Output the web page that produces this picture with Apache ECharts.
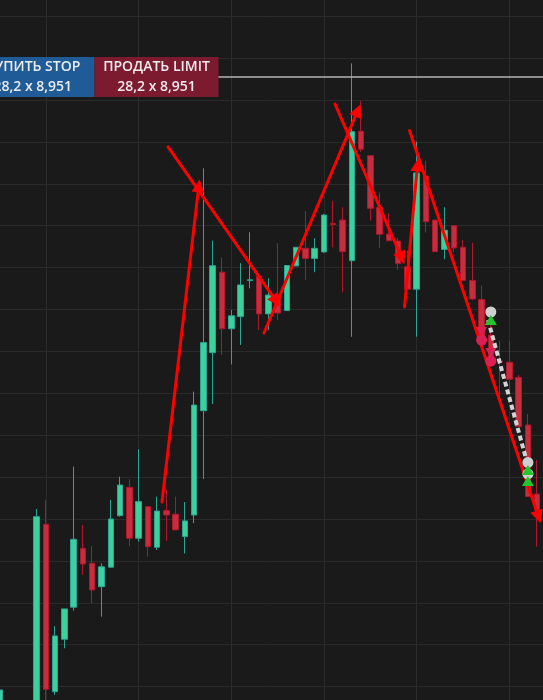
<!DOCTYPE html>
<html><head><meta charset="utf-8">
<script src="https://cdn.jsdelivr.net/npm/echarts@6/dist/echarts.min.js"></script>
<style>html,body{margin:0;padding:0;background:#1a1a1a}#c{width:543px;height:700px}</style>
</head><body><div id="c"></div>
<script>
// ---- candle data (one entry per candle, left to right; null = candle outside the view) ----
const opens  = [8.92041,null,null,null,8.92041,8.92975,8.92176,8.92426,8.92579,8.92860,8.92789,8.92677,8.92770,8.93016,8.93151,8.92908,8.93059,8.92865,8.93040,8.93023,8.92916,8.93019,8.93517,8.93794,8.94178,8.93908,8.93966,8.94138,8.94160,8.93979,8.94069,8.93995,8.94208,8.94292,8.94244,8.94275,8.94411,8.94427,8.94233,8.94851,8.94734,8.94487,8.94360,8.94327,8.94204,8.94097,8.94637,8.94427,8.94287,8.94400,8.94297,8.94138,8.94048,8.93878,8.93754,8.93748,8.93676,8.93449,8.93119];
const closes = [8.92184,null,null,null,8.93011,8.92187,8.92442,8.92571,8.92903,8.92785,8.92661,8.92772,8.93000,8.93162,8.92908,8.93083,8.92868,8.93038,8.93019,8.92948,8.92991,8.93544,8.93842,8.94209,8.93908,8.93970,8.94117,8.94142,8.93979,8.94069,8.93983,8.94210,8.94297,8.94244,8.94292,8.94451,8.94406,8.94276,8.94849,8.94765,8.94483,8.94359,8.94328,8.94219,8.94097,8.94652,8.94419,8.94276,8.94378,8.94294,8.94138,8.94050,8.93866,8.93743,8.93750,8.93667,8.93441,8.93107,8.93043];
const lows   = [8.92041,null,null,null,8.91993,8.92088,8.92160,8.92383,8.92562,8.92733,8.92598,8.92534,8.92770,8.93011,8.92871,8.92892,8.92820,8.92852,8.92895,8.92948,8.92835,8.92980,8.93191,8.93549,8.93783,8.93738,8.93831,8.94101,8.93902,8.93902,8.93950,8.93995,8.94208,8.94141,8.94178,8.94271,8.94297,8.94081,8.93870,8.94752,8.94424,8.94294,8.94327,8.94189,8.94097,8.93870,8.94367,8.94276,8.94240,8.94275,8.94138,8.94045,8.93823,8.93727,8.93568,8.93560,8.93441,8.93107,8.92868];
const highs  = [8.92184,null,null,null,8.93048,8.93091,8.92489,8.92571,8.93250,8.92971,8.92871,8.92789,8.93091,8.93202,8.93190,8.93333,8.93059,8.93107,8.93139,8.93107,8.93081,8.93608,8.94674,8.94329,8.94249,8.93998,8.94221,8.94369,8.94160,8.94149,8.94317,8.94210,8.94297,8.94470,8.94340,8.94456,8.94519,8.94488,8.95175,8.94997,8.94737,8.94558,8.94459,8.94341,8.94281,8.94801,8.94710,8.94427,8.94488,8.94400,8.94332,8.94319,8.94114,8.93950,8.93851,8.93851,8.93687,8.93501,8.93282];

// ---- annotations, in (slot, price) ----
const trendLines = [
  [[22.53, 8.93081], [26.50, 8.94590]],
  [[23.18, 8.94776], [34.85, 8.94040]],
  [[33.53, 8.93888], [43.65, 8.94950]],
  [[41.19, 8.94981], [48.40, 8.94245]],
  [[48.69, 8.94012], [50.09, 8.94690]],
  [[49.23, 8.94854], [63.15, 8.93010]]
];
const dashedLine = [[57.70, 8.93950], [61.90, 8.93272]];
const orderPrice = 8.95111;
const orderLineFrom = 28.5;
const grayDots = [[58, 8.93988], [62, 8.93270], [62, 8.93215]];
const greenUps = [[58, 8.93950], [62, 8.93234], [62, 8.93181]];
const redDots  = [[57, 8.93854], [58, 8.93754]];
const redDowns = [[57, 8.93893], [58, 8.93792]];
const buyLabel  = ['КУПИТЬ STOP', '28,2 x 8,951'];
const sellLabel = ['ПРОДАТЬ LIMIT', '28,2 x 8,951'];

const LEAD = 5, SLOTS = 71;
const categories = [];
for (let p = 0; p < SLOTS; p++) categories.push('t' + p);
const candles = categories.map(() => '-');
opens.forEach((o, k) => {
  if (o !== null) candles[LEAD + k] = [o, closes[k], lows[k], highs[k]];
});

const chart = echarts.init(document.getElementById('c'), null, {renderer: 'canvas'});
const gridColor = '#2b2b2b';
const font1 = '600 14px "Open Sans"';
function label(cx, lines) {
  return lines.map((t, j) => ({
    type: 'text', z: 101, silent: true,
    style: {x: cx, y: 67 + j * 20, text: t, fill: '#ececec', font: font1,
      textAlign: 'center', textVerticalAlign: 'middle', align: 'center', verticalAlign: 'middle'}
  }));
}
chart.setOption({
  backgroundColor: '#1a1a1a',
  animation: false,
  grid: {left: -46.83, right: -59.07, top: -25.7, bottom: -28.5, containLabel: false, outerBoundsMode: 'none'},
  xAxis: [
    {type: 'category', data: categories, boundaryGap: false, show: true,
      axisLine: {show: false}, axisTick: {show: false}, axisLabel: {show: false}, splitLine: {show: false}},
    {type: 'value', min: 0, max: SLOTS - 1, interval: 10, position: 'bottom',
      axisLine: {show: false}, axisTick: {show: false}, axisLabel: {show: false},
      splitLine: {show: true, lineStyle: {color: gridColor, width: 1}}}
  ],
  yAxis: [{type: 'value', min: 8.920, max: 8.956, interval: 0.002, scale: true,
    axisLine: {show: false}, axisTick: {show: false}, axisLabel: {show: false},
    splitLine: {show: true, lineStyle: {color: gridColor, width: 1}}}],
  series: [
    {type: 'candlestick', xAxisIndex: 0, yAxisIndex: 0, data: candles, barWidth: 6, z: 2,
      itemStyle: {color: '#3dcf9c', color0: '#c42e3e', borderColor: '#2ba594', borderColor0: '#b3152a', borderWidth: 1}},
    {type: 'lines', coordinateSystem: 'cartesian2d', xAxisIndex: 1, yAxisIndex: 0, z: 3, silent: true,
      data: [{coords: [[orderLineFrom, orderPrice], [SLOTS - 1, orderPrice]]}],
      symbol: ['none', 'none'], lineStyle: {color: '#b4b4b4', width: 1.6, opacity: 1}},
    {type: 'lines', coordinateSystem: 'cartesian2d', xAxisIndex: 1, yAxisIndex: 0, z: 4, silent: true,
      data: [{coords: dashedLine}], symbol: ['none', 'none'],
      lineStyle: {color: '#d4d4d4', width: 4, opacity: 1, type: [5, 3]}},
    {type: 'lines', coordinateSystem: 'cartesian2d', xAxisIndex: 1, yAxisIndex: 0, z: 5, silent: true,
      data: trendLines.map(c => ({coords: c})), symbol: ['none', 'triangle'], symbolSize: 13,
      lineStyle: {color: '#ff0000', width: 3, opacity: 1, cap: 'round'}},
    {type: 'scatter', xAxisIndex: 1, yAxisIndex: 0, z: 6, silent: true, data: redDots,
      symbol: 'circle', symbolSize: 11, itemStyle: {color: '#dc1f52', opacity: 1}},
    {type: 'scatter', xAxisIndex: 1, yAxisIndex: 0, z: 6, silent: true, data: redDowns,
      symbol: 'triangle', symbolRotate: 180, symbolSize: [11, 10], itemStyle: {color: '#dc1f52', opacity: 1}},
    {type: 'scatter', xAxisIndex: 1, yAxisIndex: 0, z: 7, silent: true, data: grayDots,
      symbol: 'circle', symbolSize: 11, itemStyle: {color: '#cfcfcf', opacity: 1}},
    {type: 'scatter', xAxisIndex: 1, yAxisIndex: 0, z: 8, silent: true, data: greenUps,
      symbol: 'triangle', symbolSize: [12, 10], itemStyle: {color: '#22c62a', opacity: 1}}
  ],
  graphic: [
    {type: 'rect', z: 100, silent: true, shape: {x: -29, y: 57, width: 123.5, height: 40}, style: {fill: '#1f5b97'}},
    {type: 'rect', z: 100, silent: true, shape: {x: 94.5, y: 57, width: 124, height: 40}, style: {fill: '#7c1a30'}},
    ...label(32.8, buyLabel),
    ...label(156.5, sellLabel)
  ]
});
</script></body></html>
